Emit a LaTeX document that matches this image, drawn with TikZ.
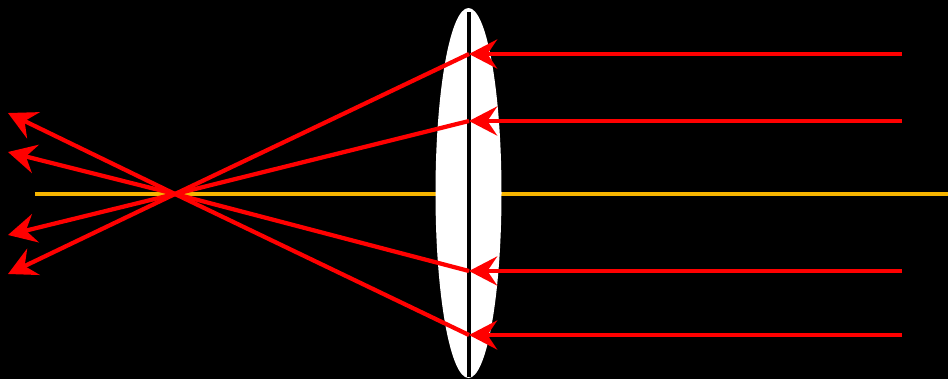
\documentclass[tikz,border=0pt]{standalone}
\usepackage{xcolor}
\usepackage{tikz}
\usetikzlibrary{arrows.meta}
\definecolor{rayred}{HTML}{FF0000}
\definecolor{axisgold}{HTML}{F7B500}

\begin{document}
\begin{tikzpicture}[x=0.02cm,y=-0.02cm,
    ray/.style={rayred, line width=2.4pt,
                -{Stealth[length=16pt, width=16.5pt, inset=5.5pt]}},
    axis/.style={axisgold, line width=2.6pt}]

  % ================= background and frame =================
  \fill[black] (0,0) rectangle (948,379);
  \useasboundingbox (0,0) rectangle (948,379);

  % ---- the points the rays run through ----
  \coordinate (focus) at (175,194);
  \foreach \n/\y/\e in {1/54/274, 2/121/235, 3/271/152, 4/335/113}{
    \coordinate (start\n) at (902,\y);
    \coordinate (lens\n) at (469,\y);
    \coordinate (end\n) at (8,\e);}

  % ---- optical axis ----
  \coordinate (axisL) at (35,194);
  \coordinate (axisR) at (948,194);
  \draw[axis] (axisL) -- (axisR);

  % ---- converging lens: white disc seen edge-on, with its plane ----
  \fill[white] (468.5,193) ellipse (33 and 185);
  \coordinate (planeT) at (469,12);
  \coordinate (planeB) at (469,377);
  \draw[black, line width=2.6pt] (planeT) -- (planeB);

  % ---- the four rays: in to the lens, then through the focus ----
  \foreach \n in {1,...,4}{
    \draw[ray] (start\n) -- (lens\n);
    \draw[ray] (lens\n) -- (focus) -- (end\n);}
\end{tikzpicture}
\end{document}
